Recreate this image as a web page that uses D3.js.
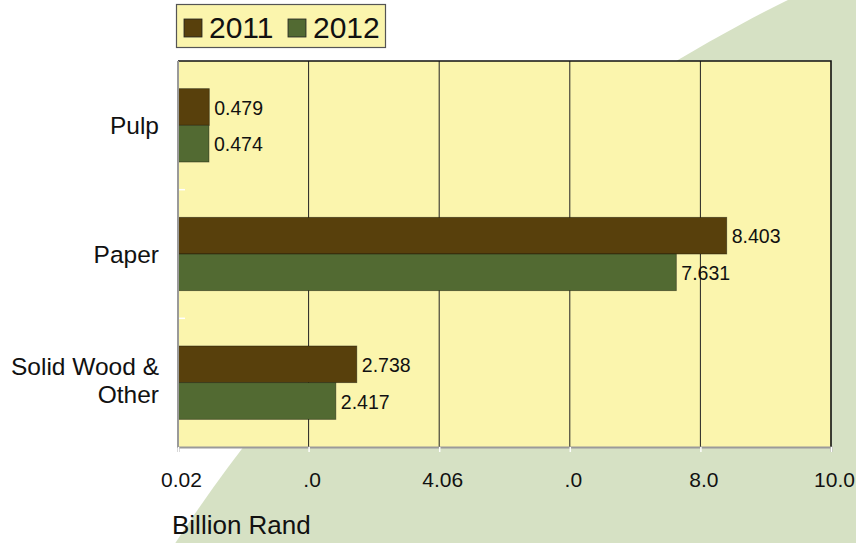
<!DOCTYPE html>
<html>
<head>
<meta charset="utf-8">
<script src="https://cdn.jsdelivr.net/npm/d3@7/dist/d3.min.js"></script>
<style>
  html, body { margin: 0; padding: 0; background: #ffffff; }
  svg { display: block; font-family: "Liberation Sans", Arial, Helvetica, sans-serif; }
</style>
</head>
<body>
<svg id="chart" width="856" height="543"></svg>
<script>
// Export values by product group, billion rand
const categories = ["Pulp", "Paper", "Solid Wood & Other"];
const categoryLines = [["Pulp"], ["Paper"], ["Solid Wood &", "Other"]];
const seriesNames = ["2011", "2012"];
const values2011 = [0.479, 8.403, 2.738];
const values2012 = [0.474, 7.631, 2.417];
const tickValues = [0, 2, 4, 6, 8, 10];
const tickLabels = ["0.02", ".0", "4.06", ".0", "8.0", "10.0"];
const axisTitle = "Billion Rand";

const colors = { "2011": "#58400c", "2012": "#526a32" };
const plotFill = "#fbf5ad";
const backdrop = "#d6e1c4";

const svg = d3.select("#chart");
const plot = { left: 178, right: 831, top: 61, bottom: 447 };

// sweeping backdrop arc behind the chart
svg.append("circle")
  .attr("cx", 1474).attr("cy", 1391).attr("r", 1551)
  .attr("fill", backdrop);

const x = d3.scaleLinear().domain([0, 10]).range([plot.left, plot.right]);
const y = d3.scaleBand().domain(categories)
  .range([plot.top, plot.bottom])
  .paddingInner(0.43).paddingOuter(0.215);
const ySub = d3.scaleBand().domain(seriesNames).range([0, y.bandwidth()]).padding(0);

// plot background
svg.append("rect")
  .attr("x", plot.left).attr("y", plot.top)
  .attr("width", plot.right - plot.left).attr("height", plot.bottom - plot.top)
  .attr("fill", plotFill);

// vertical gridlines
svg.append("g").selectAll("line")
  .data(tickValues.slice(1, -1))
  .join("line")
  .attr("x1", d => x(d)).attr("x2", d => x(d))
  .attr("y1", plot.top).attr("y2", plot.bottom)
  .attr("stroke", "#222").attr("stroke-width", 1);

// top and right frame
svg.append("path")
  .attr("d", `M${plot.left},${plot.top}H${plot.right}V${plot.bottom}`)
  .attr("fill", "none").attr("stroke", "#111").attr("stroke-width", 1.6);

// bars
const rows = categories.map((c, i) => ({
  category: c,
  values: [
    { series: "2011", value: values2011[i] },
    { series: "2012", value: values2012[i] }
  ]
}));

const groups = svg.append("g").selectAll("g")
  .data(rows).join("g")
  .attr("transform", d => `translate(0,${y(d.category)})`);

groups.selectAll("rect")
  .data(d => d.values).join("rect")
  .attr("x", x(0))
  .attr("y", d => ySub(d.series))
  .attr("width", d => x(d.value) - x(0))
  .attr("height", ySub.bandwidth())
  .attr("fill", d => colors[d.series])
  .attr("stroke", "rgba(20,20,10,0.55)").attr("stroke-width", 0.8);

groups.selectAll("text")
  .data(d => d.values).join("text")
  .attr("x", d => x(d.value) + 5)
  .attr("y", d => ySub(d.series) + ySub.bandwidth() / 2)
  .attr("dy", "0.4em")
  .attr("font-size", 19.5)
  .attr("fill", "#111")
  .text(d => d.value.toFixed(3));

// left axis line and small category separators
svg.append("line")
  .attr("x1", plot.left).attr("x2", plot.left)
  .attr("y1", plot.top).attr("y2", plot.bottom + 1)
  .attr("stroke", "#9a9a9a").attr("stroke-width", 2);
const step = y.step();
svg.append("g").selectAll("line")
  .data([1, 2])
  .join("line")
  .attr("x1", plot.left + 1).attr("x2", plot.left + 7)
  .attr("y1", d => plot.top + d * step).attr("y2", d => plot.top + d * step)
  .attr("stroke", "#ffffff").attr("stroke-width", 1.5);

// category labels
const catLabels = svg.append("g").selectAll("text")
  .data(categories).join("text")
  .attr("text-anchor", "end")
  .attr("font-size", 24.5)
  .attr("fill", "#111");
catLabels.each(function(d, i) {
  const lines = categoryLines[i];
  const cy = y(d) + y.bandwidth() / 2 - (lines.length > 1 ? 2.5 : 0);
  const lh = 28;
  const t = d3.select(this);
  lines.forEach((ln, j) => {
    t.append("tspan")
      .attr("x", plot.left - 19)
      .attr("y", cy + (j - (lines.length - 1) / 2) * lh)
      .attr("dy", "0.35em")
      .text(ln);
  });
});

// bottom axis
const xAxis = d3.axisBottom(x)
  .tickValues(tickValues)
  .tickFormat((d, i) => tickLabels[i])
  .tickSize(5)
  .tickPadding(20);
const gx = svg.append("g")
  .attr("transform", `translate(0,${plot.bottom})`)
  .call(xAxis);
gx.select(".domain").attr("stroke", "#9a9a9a").attr("stroke-width", 2);
gx.selectAll(".tick line").attr("stroke", "#ffffff").attr("stroke-width", 1.5);
gx.selectAll(".tick text")
  .attr("dx", 3)
  .attr("font-size", 21)
  .attr("font-family", "Liberation Sans, Arial, sans-serif")
  .attr("fill", "#111");

// axis title
svg.append("text")
  .attr("x", 172).attr("y", 534)
  .attr("font-size", 26)
  .attr("fill", "#111")
  .text(axisTitle);

// legend
const legend = svg.append("g");
legend.append("rect")
  .attr("x", 176.5).attr("y", 4.5).attr("width", 209).attr("height", 43)
  .attr("fill", plotFill).attr("stroke", "#555").attr("stroke-width", 1.2);
const legendX = [184, 288];
seriesNames.forEach((s, i) => {
  legend.append("rect")
    .attr("x", legendX[i]).attr("y", 19).attr("width", 18).attr("height", 18)
    .attr("fill", colors[s]).attr("stroke", "#222").attr("stroke-width", 0.8);
  legend.append("text")
    .attr("x", legendX[i] + 25).attr("y", 37.5)
    .attr("font-size", 30)
    .attr("fill", "#111")
    .text(s);
});
</script>
</body>
</html>
